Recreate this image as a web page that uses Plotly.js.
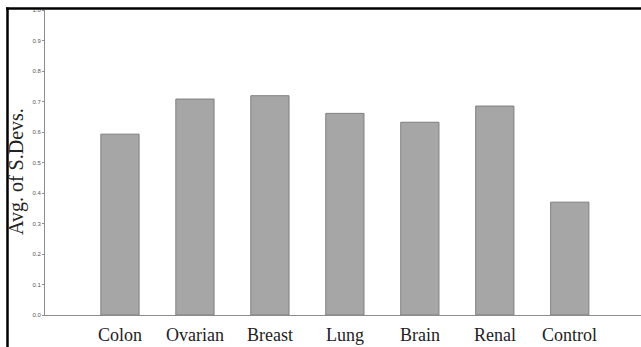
<!DOCTYPE html>
<html>
<head>
<meta charset="utf-8">
<script src="https://cdn.plot.ly/plotly-3.0.1.min.js"></script>
<style>html,body{margin:0;padding:0;background:#fff;}#chart{width:641px;height:347px;}</style>
</head>
<body>
<div id="chart"></div>
<script>
var categories = ["Colon", "Ovarian", "Breast", "Lung", "Brain", "Renal", "Control"];
var avgSDevs = [0.593, 0.708, 0.719, 0.661, 0.632, 0.685, 0.370];
var yTickVals = [0.0, 0.1, 0.2, 0.3, 0.4, 0.5, 0.6, 0.7, 0.8, 0.9, 1.0];
var yTickText = ["0.0", "0.1", "0.2", "0.3", "0.4", "0.5", "0.6", "0.7", "0.8", "0.9", "1.0"];
var yTitle = "Avg. of S.Devs.";

var serif = "Liberation Serif";

var trace = {
  type: "bar",
  x: categories,
  y: avgSDevs,
  width: 0.51,
  marker: {color: "#a6a6a6", line: {color: "#7f7f7f", width: 1}},
  hoverinfo: "none"
};

var L = 45, R = 0, T = 10, B = 32, W = 641, H = 347;
var pw = W - L - R, ph = H - T - B;
function px2x(px) { return (px - L) / pw; }
function py2y(py) { return (H - B - py) / ph; }

var annotations = categories.map(function (c) {
  return {text: c, x: c, xref: "x", yref: "paper", y: py2y(335), xanchor: "center", yanchor: "middle",
          showarrow: false, font: {family: serif, size: 18, color: "#222"}};
});
annotations.push({text: yTitle, xref: "paper", yref: "paper", x: px2x(16), y: py2y(172), xanchor: "center", yanchor: "middle",
     textangle: -90, showarrow: false, font: {family: serif, size: 20, color: "#222"}});

var layout = {
  width: W, height: H,
  margin: {l: L, r: R, t: T, b: B, pad: 0},
  paper_bgcolor: "#ffffff",
  plot_bgcolor: "#ffffff",
  showlegend: false,
  xaxis: {
    type: "category",
    range: [-1, 6.95],
    showline: true, linecolor: "#8c8c8c", linewidth: 1,
    ticks: "", showgrid: false, zeroline: false,
    showticklabels: false
  },
  yaxis: {
    range: [0, 1],
    tickvals: yTickVals, ticktext: yTickText,
    showline: true, linecolor: "#8c8c8c", linewidth: 1,
    ticks: "outside", ticklen: 2, tickcolor: "#8c8c8c", tickwidth: 1,
    showgrid: false, zeroline: false,
    tickfont: {family: "Liberation Sans", size: 6, color: "#555"}
  },
  annotations: annotations,
  shapes: [
    {type: "line", xref: "paper", yref: "paper", x0: px2x(6), x1: px2x(641), y0: py2y(8.5), y1: py2y(8.5), line: {color: "#000", width: 2.5}},
    {type: "line", xref: "paper", yref: "paper", x0: px2x(7.5), x1: px2x(7.5), y0: py2y(7.5), y1: py2y(347), line: {color: "#000", width: 2.5}}
  ]
};

Plotly.newPlot("chart", [trace], layout, {staticPlot: true, displayModeBar: false});
</script>
</body>
</html>
